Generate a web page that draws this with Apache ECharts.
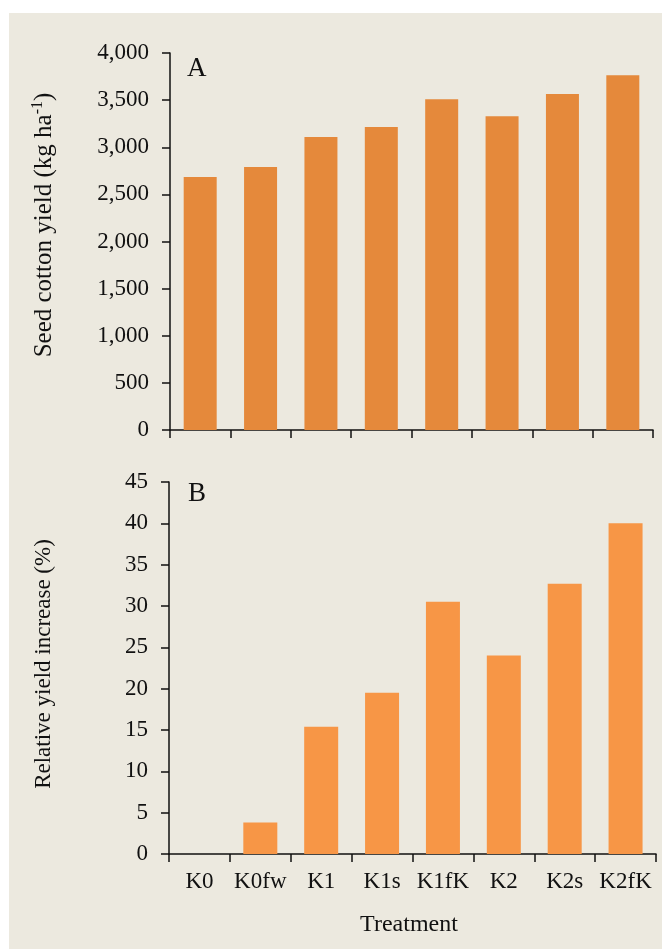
<!DOCTYPE html>
<html>
<head>
<meta charset="utf-8">
<script src="https://cdn.jsdelivr.net/npm/echarts@6/dist/echarts.min.js"></script>
<style>
  html, body { margin: 0; padding: 0; background: #ffffff; }
  #chart { width: 662px; height: 949px; }
</style>
</head>
<body>
<div id="chart"></div>
<script>
// Treatments on the shared category axis
const categories = ['K0', 'K0fw', 'K1', 'K1s', 'K1fK', 'K2', 'K2s', 'K2fK'];
// Panel A: seed cotton yield (kg/ha)
const seedCottonYield = [2685, 2790, 3110, 3215, 3510, 3330, 3565, 3765];
// Panel B: relative yield increase over K0 (%)
const relativeIncrease = [0, 3.8, 15.4, 19.5, 30.5, 24.0, 32.7, 40.0];
// Axis ranges
const yieldTicks = { min: 0, max: 4000, interval: 500 };
const increaseTicks = { min: 0, max: 45, interval: 5 };

const FONT = '"Liberation Serif", "Times New Roman", serif';
const INK = '#111111';
const PANEL_BG = '#ECE9DF';

const chart = echarts.init(document.getElementById('chart'), null, { renderer: 'canvas' });

const axisLine = { show: true, lineStyle: { color: INK, width: 1.5 } };
const axisTick = { show: true, length: 8, inside: false, lineStyle: { color: INK, width: 1.5 } };
const labelStyle = { color: INK, fontFamily: FONT, fontSize: 23 };

function thousands(v) {
  return String(v).replace(/\B(?=(\d{3})+(?!\d))/g, ',');
}

chart.setOption({
  animation: false,
  backgroundColor: '#ffffff',
  graphic: [
    { type: 'rect', z: -10, silent: true,
      shape: { x: 9, y: 13, width: 653, height: 936 },
      style: { fill: PANEL_BG } },
    { type: 'text', left: 187, top: 55, z: 10,
      style: { text: 'A', font: '27px ' + FONT, fill: INK } },
    { type: 'text', left: 188, top: 480, z: 10,
      style: { text: 'B', font: '27px ' + FONT, fill: INK } },
    { type: 'text', x: 44, y: 225, rotation: Math.PI / 2, z: 10,
      style: {
        text: '{a|Seed cotton yield (kg ha}{s|-1}{a|)}',
        align: 'center', verticalAlign: 'middle',
        rich: {
          a: { fontFamily: FONT, fontSize: 25, fill: INK, lineHeight: 28 },
          s: { fontFamily: FONT, fontSize: 16, fill: INK, verticalAlign: 'top', lineHeight: 28, padding: [0, 0, 12, 0] }
        }
      } },
    { type: 'text', x: 44, y: 664, rotation: Math.PI / 2, z: 10,
      style: {
        text: 'Relative yield increase (%)',
        align: 'center', verticalAlign: 'middle',
        font: '23px ' + FONT, fill: INK
      } },
    { type: 'text', x: 409, y: 925, z: 10,
      style: {
        text: 'Treatment',
        align: 'center', verticalAlign: 'middle',
        font: '24px ' + FONT, fill: INK
      } }
  ],
  grid: [
    { left: 170, top: 53, width: 483, height: 377 },
    { left: 169, top: 482, width: 487, height: 372 }
  ],
  xAxis: [
    { type: 'category', gridIndex: 0, data: categories, boundaryGap: true,
      axisLine, axisTick, axisLabel: { show: false }, splitLine: { show: false } },
    { type: 'category', gridIndex: 1, data: categories, boundaryGap: true,
      axisLine, axisTick,
      axisLabel: Object.assign({ margin: 16, interval: 0 }, labelStyle),
      splitLine: { show: false } }
  ],
  yAxis: [
    { type: 'value', gridIndex: 0, min: yieldTicks.min, max: yieldTicks.max, interval: yieldTicks.interval,
      axisLine, axisTick,
      axisLabel: Object.assign({ margin: 21, formatter: thousands }, labelStyle),
      splitLine: { show: false } },
    { type: 'value', gridIndex: 1, min: increaseTicks.min, max: increaseTicks.max, interval: increaseTicks.interval,
      axisLine, axisTick,
      axisLabel: Object.assign({ margin: 21 }, labelStyle),
      splitLine: { show: false } }
  ],
  series: [
    { type: 'bar', xAxisIndex: 0, yAxisIndex: 0, data: seedCottonYield,
      barWidth: 33, itemStyle: { color: '#E5893B' } },
    { type: 'bar', xAxisIndex: 1, yAxisIndex: 1, data: relativeIncrease,
      barWidth: 34, itemStyle: { color: '#F79646' } }
  ]
});
</script>
</body>
</html>
